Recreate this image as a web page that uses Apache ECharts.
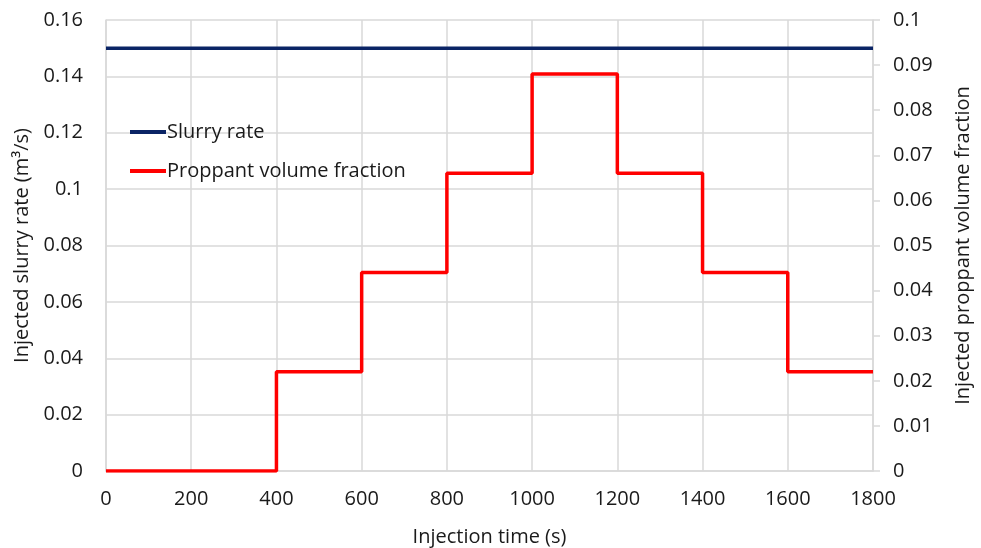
<!DOCTYPE html>
<html><head><meta charset="utf-8">
<script src="https://cdn.jsdelivr.net/npm/echarts@6/dist/echarts.min.js"></script>
<style>html,body{margin:0;padding:0;background:#fff}#c{width:981px;height:548px}</style>
</head><body><div id="c"></div>
<script>
const slurryTimes = [0, 1800];
const slurryRate = [0.15, 0.15];
const stepTimes = [0, 400, 600, 800, 1000, 1200, 1400, 1600, 1800];
const proppantFraction = [0, 0.022, 0.044, 0.066, 0.088, 0.066, 0.044, 0.022, 0.022];
const xTicks = {min: 0, max: 1800, interval: 200};
const leftTicks = {min: 0, max: 0.16, interval: 0.02};
const rightTicks = {min: 0, max: 0.1, interval: 0.01};

const font = '"Open Sans", "Liberation Sans", sans-serif';
const txt = '#1a1a1a';
const gridC = '#d9d9d9';
const fs = 20;
const chart = echarts.init(document.getElementById('c'));
chart.setOption({
  animation: false,
  textStyle: {fontFamily: font},
  grid: {left: 106, right: 108, top: 20, bottom: 77, containLabel: false, outerBoundsMode: 'none'},
  legend: {
    orient: 'vertical', left: 125, top: 117, itemGap: 19,
    itemWidth: 36, itemHeight: 4, icon: 'rect',
    textStyle: {fontSize: fs, color: txt, fontFamily: font, padding: [0,0,0,-4]},
    data: ['Slurry rate', 'Proppant volume fraction']
  },
  xAxis: {
    type: 'value', min: xTicks.min, max: xTicks.max, interval: xTicks.interval,
    name: 'Injection time (s)', nameLocation: 'middle', nameGap: 56,
    nameTextStyle: {fontSize: fs, color: txt, fontFamily: font},
    axisLine: {show: true, lineStyle: {color: gridC, width: 1.5}},
    axisTick: {show: false},
    axisLabel: {fontSize: fs, color: txt, margin: 18, fontFamily: font, formatter: v => String(v)},
    splitLine: {show: true, lineStyle: {color: gridC, width: 1.5}}
  },
  yAxis: [{
    type: 'value', min: leftTicks.min, max: leftTicks.max, interval: leftTicks.interval,
    name: 'Injected slurry rate (m³/s)', nameLocation: 'middle', nameGap: 72,
    nameTextStyle: {fontSize: fs, color: txt, fontFamily: font},
    axisLine: {show: true, lineStyle: {color: gridC, width: 1.5}},
    axisTick: {show: false},
    axisLabel: {fontSize: fs, color: txt, margin: 23, fontFamily: font, formatter: v => String(v)},
    splitLine: {show: true, lineStyle: {color: gridC, width: 1.5}}
  }, {
    type: 'value', min: rightTicks.min, max: rightTicks.max, interval: rightTicks.interval,
    position: 'right',
    name: 'Injected proppant volume fraction', nameLocation: 'middle', nameGap: 80,
    nameRotate: 90,
    nameTextStyle: {fontSize: fs, color: txt, fontFamily: font},
    axisLine: {show: true, lineStyle: {color: gridC, width: 1.5}},
    axisTick: {show: true, length: 7, lineStyle: {color: gridC, width: 1.5}},
    axisLabel: {fontSize: fs, color: txt, margin: 20, fontFamily: font, formatter: v => String(v)},
    splitLine: {show: false}
  }],
  series: [{
    name: 'Slurry rate', type: 'line', yAxisIndex: 0, symbol: 'none',
    color: '#0a2465',
    lineStyle: {width: 3.5, color: '#0a2465'},
    data: slurryTimes.map((t, i) => [t, slurryRate[i]])
  }, {
    name: 'Proppant volume fraction', type: 'line', yAxisIndex: 1, symbol: 'none',
    step: 'end', color: '#ff0000',
    lineStyle: {width: 3.5, color: '#ff0000'},
    data: stepTimes.map((t, i) => [t, proppantFraction[i]])
  }]
});
</script></body></html>
